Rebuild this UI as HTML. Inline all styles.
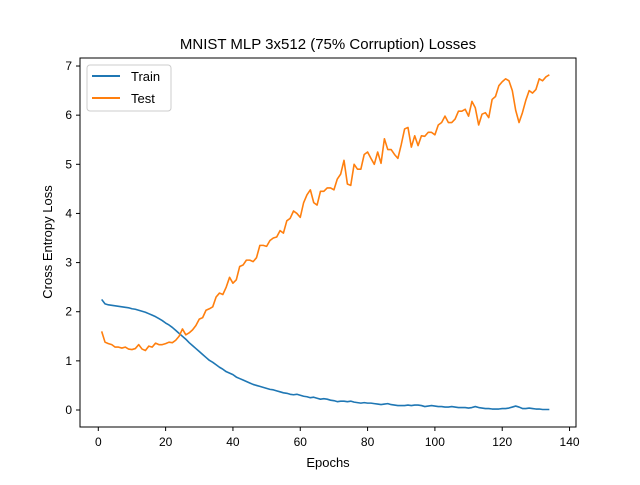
<!DOCTYPE html>
<html><head><meta charset="utf-8"><style>
body{margin:0;background:#fff}
svg text{font-family:"Liberation Sans","DejaVu Sans",sans-serif;fill:#000}
</style></head><body>
<svg id="chart" width="640" height="480" viewBox="0 0 640 480">
<rect width="640" height="480" fill="#fff"/>
<text x="328" y="49" font-size="15" text-anchor="middle">MNIST MLP 3x512 (75% Corruption) Losses</text>
<g id="plot"></g>
<rect x="80" y="58" width="496" height="369" fill="none" stroke="#000" stroke-width="1"/>
<text x="328" y="467" font-size="13" text-anchor="middle">Epochs</text>
<text x="0" y="0" font-size="13" text-anchor="middle" transform="translate(52,242) rotate(-90)">Cross Entropy Loss</text>
<g>
<rect x="87" y="65" width="84" height="46" rx="3" fill="#fff" stroke="#ccc" stroke-width="1"/>
<line x1="92" y1="76" x2="120" y2="76" stroke="#1f77b4" stroke-width="2"/>
<text x="131" y="81" font-size="13">Train</text>
<line x1="92" y1="98" x2="120" y2="98" stroke="#ff7f0e" stroke-width="2"/>
<text x="131" y="103" font-size="13">Test</text>
</g>
</svg>
<script>
const xTicks=[0,20,40,60,80,100,120,140];
const yTicks=[0,1,2,3,4,5,6,7];
const trainLoss=[2.25,2.16,2.14,2.13,2.12,2.11,2.10,2.09,2.08,2.06,
2.05,2.03,2.01,1.99,1.96,1.93,1.90,1.86,1.82,1.77,
1.73,1.68,1.62,1.56,1.50,1.44,1.37,1.31,1.25,1.19,
1.13,1.07,1.01,0.97,0.92,0.87,0.83,0.78,0.75,0.72,
0.67,0.64,0.61,0.58,0.55,0.52,0.50,0.48,0.46,0.44,
0.42,0.41,0.39,0.37,0.35,0.34,0.32,0.31,0.32,0.30,
0.28,0.27,0.25,0.26,0.24,0.22,0.23,0.22,0.20,0.19,
0.17,0.18,0.18,0.17,0.18,0.16,0.15,0.14,0.15,0.14,
0.14,0.13,0.12,0.11,0.12,0.13,0.11,0.10,0.09,0.09,
0.09,0.10,0.09,0.10,0.10,0.09,0.07,0.08,0.09,0.08,
0.07,0.07,0.06,0.06,0.07,0.06,0.05,0.05,0.05,0.04,
0.05,0.07,0.05,0.04,0.03,0.03,0.02,0.02,0.02,0.03,
0.03,0.04,0.06,0.08,0.06,0.03,0.03,0.04,0.03,0.02,
0.02,0.01,0.01,0.01];
const testLoss=[1.6,1.38,1.35,1.33,1.28,1.28,1.26,1.28,1.24,1.23,
1.25,1.33,1.24,1.21,1.3,1.28,1.36,1.33,1.33,1.35,
1.38,1.37,1.42,1.5,1.65,1.53,1.57,1.63,1.72,1.85,
1.88,2.03,2.06,2.1,2.3,2.38,2.35,2.5,2.7,2.58,
2.65,2.92,2.95,3.05,3.05,3.02,3.1,3.35,3.35,3.33,
3.45,3.5,3.52,3.65,3.6,3.85,3.9,4.05,4.0,3.92,
4.22,4.38,4.48,4.22,4.17,4.45,4.45,4.52,4.52,4.48,
4.7,4.8,5.08,4.6,4.57,5.0,4.9,4.9,5.2,5.25,
5.12,5.0,5.25,5.02,5.52,5.3,5.3,5.2,5.12,5.4,
5.72,5.75,5.35,5.58,5.38,5.58,5.57,5.65,5.65,5.6,
5.8,5.85,5.98,5.85,5.85,5.92,6.08,6.08,6.12,5.98,
6.28,6.15,5.8,6.02,6.05,5.95,6.32,6.38,6.6,6.68,
6.74,6.7,6.5,6.1,5.85,6.05,6.3,6.5,6.45,6.52,
6.74,6.7,6.78,6.82];
const NS='http://www.w3.org/2000/svg';
const X=v=>98.3+v*3.366;
const Y=v=>410-v*49.14;
const g=document.getElementById('plot');
function mk(t,a){const e=document.createElementNS(NS,t);for(const k in a)e.setAttribute(k,a[k]);g.appendChild(e);return e;}
xTicks.forEach(t=>{
  const l=mk('line',{x1:X(t),x2:X(t),y1:427,y2:431,stroke:'#000'});
  
  
  const tx=mk('text',{x:X(t),y:446,'font-size':12,'text-anchor':'middle'});tx.textContent=t;
  
  
});
yTicks.forEach(t=>{
  const l=mk('line',{x1:76,x2:80,y1:Y(t),y2:Y(t),stroke:'#000'});
  
  
  const tx=mk('text',{x:72,y:Y(t)+4,'font-size':12,'text-anchor':'end'});tx.textContent=t;
  
  
});
function line(arr,color,name){
  const d=arr.map((v,i)=>(i?'L':'M')+X(i+1).toFixed(2)+' '+Y(v).toFixed(2)).join('');
  const p=mk('path',{d:d,fill:'none',stroke:color,'stroke-width':1.6,'stroke-linejoin':'round'});
  
  
}
line(trainLoss,'#1f77b4','train-loss-line');
line(testLoss,'#ff7f0e','test-loss-line');
</script>
</body></html>
